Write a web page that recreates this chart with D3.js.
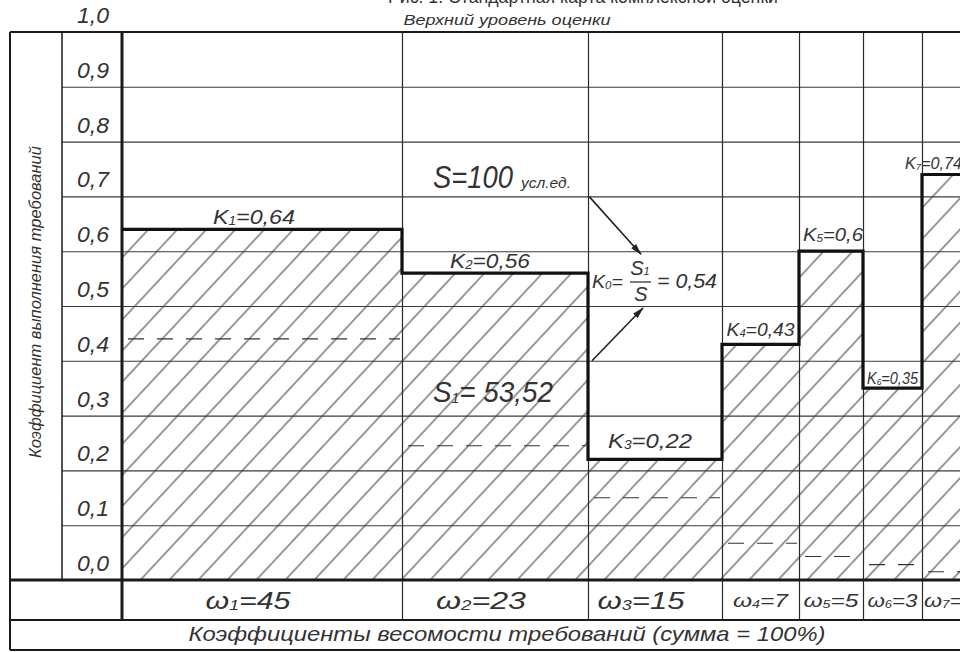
<!DOCTYPE html>
<html>
<head>
<meta charset="utf-8">
<script src="https://cdn.jsdelivr.net/npm/d3@7"></script>
<style>
body { margin: 0; background: #fff; }
text { font-family: "Liberation Sans", Arial, sans-serif; font-style: italic; fill: #333; }
</style>
</head>
<body>
<svg id="chart"></svg>
<script>
// данные карты
var weights = [45, 23, 15, 7, 5, 3, 2];
var kValues = [0.64, 0.56, 0.22, 0.43, 0.6, 0.35, 0.74];
var kLabels = ["0,64", "0,56", "0,22", "0,43", "0,6", "0,35", "0,74"];
var weightLevels = [0.44, 0.245, 0.15, 0.067, 0.043, 0.028, 0.015]; // пунктир
var yTicks = [0, 0.1, 0.2, 0.3, 0.4, 0.5, 0.6, 0.7, 0.8, 0.9, 1.0];
var yTickLabels = ["0,0", "0,1", "0,2", "0,3", "0,4", "0,5", "0,6", "0,7", "0,8", "0,9", "1,0"];
var totalS = "100", areaS1 = "53,52", k0Label = "0,54";

var W = 960, H = 652;
var svg = d3.select("#chart").attr("width", W).attr("height", H);

// колонки нарисованы не пропорционально весам -> кусочно-линейная шкала
var colWidth = [280, 186, 134, 77, 64, 59, 83];
var plotL = 122, plotT = 32, plotB = 580;
var cum = [0], edges = [plotL];
weights.forEach(function(w, i) {
    cum.push(cum[i] + w);
    edges.push(edges[i] + colWidth[i]);
});
var x = d3.scaleLinear().domain(cum).range(edges);
var y = d3.scaleLinear().domain([0, 1]).range([plotB, plotT]);

var cols = weights.map(function(w, i) {
    return {i: i, w: w, k: kValues[i], lab: kLabels[i], lvl: weightLevels[i], x0: x(cum[i]), x1: x(cum[i + 1])};
});

// растянутый шрифт как на чертеже
function stretch(t, len) {
    return t.attr("textLength", len).attr("lengthAdjust", "spacingAndGlyphs");
}

// штриховка
var defs = svg.append("defs");
defs.append("pattern")
    .attr("id", "hatch")
    .attr("patternUnits", "userSpaceOnUse")
    .attr("width", 21.2).attr("height", 10)
    .attr("patternTransform", "rotate(43)")
    .append("line")
    .attr("x1", 10.6).attr("x2", 10.6).attr("y1", -1).attr("y2", 11)
    .attr("stroke", "#333").attr("stroke-width", 1);
defs.append("marker")
    .attr("id", "arrow")
    .attr("viewBox", "0 0 12 8")
    .attr("refX", 11).attr("refY", 4)
    .attr("markerWidth", 12).attr("markerHeight", 8)
    .attr("markerUnits", "userSpaceOnUse")
    .attr("orient", "auto")
    .append("path").attr("d", "M0,0.8 L12,4 L0,7.2 Z").attr("fill", "#222");

svg.append("g").selectAll("rect").data(cols).join("rect")
    .attr("x", d => d.x0).attr("width", d => d.x1 - d.x0)
    .attr("y", d => y(d.k)).attr("height", d => y(0) - y(d.k))
    .attr("fill", "url(#hatch)");

// сетка
var gy = svg.append("g").attr("transform", "translate(62,0)")
    .call(d3.axisRight(y).tickValues(yTicks.slice(1, -1)).tickSize(W - 62).tickFormat(""));
gy.select(".domain").remove();
gy.selectAll("line").attr("stroke", "#3a3a3a").attr("stroke-width", 1.1);

var gx = svg.append("g").attr("transform", "translate(0,620)")
    .call(d3.axisBottom(x).tickValues(cum.slice(1, -1)).tickSize(-(620 - plotT)).tickFormat(""));
gx.select(".domain").remove();
gx.selectAll("line").attr("stroke", "#2a2a2a").attr("stroke-width", 1.2);

// пунктир = вес требования
svg.append("g").selectAll("line").data(cols).join("line")
    .attr("x1", d => d.x0 + 6).attr("x2", d => d.x1 - 2)
    .attr("y1", d => y(d.lvl)).attr("y2", d => y(d.lvl))
    .attr("stroke", "#333").attr("stroke-width", 1.1)
    .attr("stroke-dasharray", "16,13");

// рамки
var frame = svg.append("g").attr("stroke", "#1a1a1a").attr("fill", "none");
frame.append("line").attr("x1", 10).attr("x2", W).attr("y1", plotT).attr("y2", plotT).attr("stroke-width", 2);
frame.append("line").attr("x1", 10).attr("x2", 10).attr("y1", plotT).attr("y2", 650).attr("stroke-width", 2);
frame.append("line").attr("x1", 62).attr("x2", 62).attr("y1", plotT).attr("y2", plotB).attr("stroke-width", 1.5);
frame.append("line").attr("x1", plotL).attr("x2", plotL).attr("y1", plotT).attr("y2", 620).attr("stroke-width", 3);
frame.append("line").attr("x1", 10).attr("x2", W).attr("y1", plotB).attr("y2", plotB).attr("stroke-width", 3);
frame.append("line").attr("x1", 10).attr("x2", W).attr("y1", 620).attr("y2", 620).attr("stroke-width", 2);
frame.append("line").attr("x1", 10).attr("x2", W).attr("y1", 650).attr("y2", 650).attr("stroke-width", 2);

// ступенчатая линия K
var steps = cols.map(d => [d.x0, y(d.k)]);
steps.push([x(100), y(kValues[kValues.length - 1])]);
svg.append("path")
    .attr("d", d3.line().curve(d3.curveStepAfter)(steps))
    .attr("fill", "none").attr("stroke", "#111").attr("stroke-width", 3.2);

// подписи по оси Y
svg.append("g").selectAll("text").data(yTicks).join("text")
    .attr("x", 93).attr("y", d => y(d) - 9)
    .attr("text-anchor", "middle").style("font-size", "22px")
    .attr("textLength", 32).attr("lengthAdjust", "spacingAndGlyphs")
    .text((d, i) => yTickLabels[i]);

svg.append("text")
    .attr("transform", "translate(41,302) rotate(-90)")
    .attr("text-anchor", "middle").style("font-size", "16.5px")
    .text("Коэффициент выполнения требований");

function subLabel(g, name, idx, val, fs) {
    g.style("font-size", fs + "px");
    g.append("tspan").text(name);
    g.append("tspan").text(idx).style("font-size", (fs * 0.58) + "px").attr("dy", 1);
    g.append("tspan").text("=" + val).attr("dy", -1);
}

// подписи K
var kGap = [5, 5, 11, 8, 10, 4, 5];
var kLen = [82, 80, 84, 68, 60, 51, 57];
var kShift = [-8, -5, -5, 0, 2, 0, 0];
cols.forEach(function(d) {
    var small = d.i >= 5, last = d.i === cols.length - 1;
    var t = svg.append("text")
        .attr("x", last ? d.x0 - 17 : (d.x0 + d.x1) / 2 + kShift[d.i])
        .attr("y", y(d.k) - kGap[d.i])
        .attr("text-anchor", last ? "start" : "middle");
    subLabel(t, "K", d.i + 1, d.lab, small ? 16.5 : (d.i < 3 ? 20.5 : 19));
    stretch(t, kLen[d.i]);
});

// подписи весов ω
var wLen = [85, 90, 87, 55, 55, 50, 52];
cols.forEach(function(d) {
    var big = d.x1 - d.x0 > 100, last = d.i === cols.length - 1;
    var t = svg.append("text")
        .attr("x", last ? d.x0 + 2 : (d.x0 + d.x1) / 2 - (big ? 14 : 0))
        .attr("y", big ? 609 : 607)
        .attr("text-anchor", last ? "start" : "middle");
    subLabel(t, "ω", d.i + 1, d.w, big ? 24 : 18.5);
    stretch(t, wLen[d.i]);
});

stretch(svg.append("text")
    .attr("x", 507).attr("y", 641).attr("text-anchor", "middle").style("font-size", "21px")
    .text("Коэффициенты весомости требований (сумма = 100%)"), 637);

// заголовки
stretch(svg.append("text")
    .attr("x", 388).attr("y", 3).style("font-size", "19px").style("font-style", "normal")
    .text("Рис. 1. Стандартная карта комплексной оценки"), 390);
stretch(svg.append("text")
    .attr("x", 507).attr("y", 25).attr("text-anchor", "middle").style("font-size", "14.5px")
    .text("Верхний уровень оценки"), 207);

// площади
stretch(svg.append("text").attr("x", 433).attr("y", 188).style("font-size", "32px").text("S=" + totalS), 80);
stretch(svg.append("text").attr("x", 521).attr("y", 188).style("font-size", "14px").text("усл.ед."), 50);

var s1 = svg.append("text").attr("x", 433).attr("y", 402).style("font-size", "30px");
s1.append("tspan").text("S");
s1.append("tspan").text("1").style("font-size", "15px").attr("dy", 1);
s1.append("tspan").text("= " + areaS1).attr("dy", -1);
stretch(s1, 120);

// K0 = S1/S
var kx = x(68);
var k0 = svg.append("text").attr("x", kx + 4).attr("y", 288);
subLabel(k0, "K", "0", "", 19);
stretch(k0, 31);
svg.append("text").attr("x", kx + 52).attr("y", 275).attr("text-anchor", "middle").style("font-size", "20px")
    .call(t => { t.append("tspan").text("S"); t.append("tspan").text("1").style("font-size", "11px"); });
svg.append("line").attr("x1", kx + 42).attr("x2", kx + 63).attr("y1", 282).attr("y2", 282)
    .attr("stroke", "#333").attr("stroke-width", 1.3);
svg.append("text").attr("x", kx + 53).attr("y", 301).attr("text-anchor", "middle").style("font-size", "20px").text("S");
stretch(svg.append("text").attr("x", kx + 69).attr("y", 288).style("font-size", "20px").text("= " + k0Label), 60);

// стрелки
svg.append("line")
    .attr("x1", kx + 1).attr("y1", y(0.7)).attr("x2", kx + 53).attr("y2", y(0.6) + 3)
    .attr("stroke", "#222").attr("stroke-width", 1.6).attr("marker-end", "url(#arrow)");
svg.append("line")
    .attr("x1", kx + 4).attr("y1", y(0.4)).attr("x2", kx + 55).attr("y2", y(0.5) + 2)
    .attr("stroke", "#222").attr("stroke-width", 1.6).attr("marker-end", "url(#arrow)");
</script>
</body>
</html>
